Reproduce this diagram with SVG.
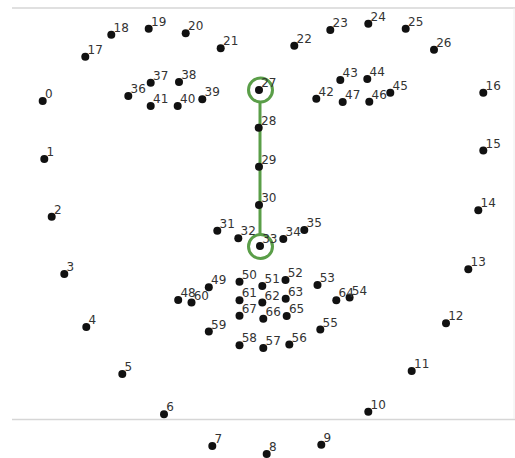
<svg xmlns="http://www.w3.org/2000/svg" width="515" height="458" viewBox="0 0 515 458">
<style>
.d{fill:#111}
.t{font-family:"DejaVu Sans",sans-serif;font-size:12px;fill:#333}
.rule{stroke:#d6d6d6;stroke-width:1.5;fill:none}
.g{stroke:#5a9e48;stroke-width:3;fill:none}
</style>
<rect width="515" height="458" fill="#fff"/>
<g id="frame">
<line class="rule" x1="12" y1="8" x2="515" y2="8"/>
<line class="rule" x1="12" y1="419.5" x2="515" y2="419.5"/>
<line x1="514" y1="8" x2="514" y2="419" stroke="#eee" stroke-width="1"/>
</g>
<g id="connectors">
<line class="g" x1="260" y1="102" x2="260" y2="234"/>
<circle class="g" cx="260.5" cy="90" r="12"/>
<circle class="g" cx="260.5" cy="246.5" r="12"/>
</g>
<g id="p0"><circle class="d" cx="42.7" cy="101" r="4"/><text class="t" x="45" y="98">0</text></g>
<g id="p1"><circle class="d" cx="44.3" cy="159" r="4"/><text class="t" x="46.5" y="156">1</text></g>
<g id="p2"><circle class="d" cx="51.7" cy="216.7" r="4"/><text class="t" x="54" y="213.7">2</text></g>
<g id="p3"><circle class="d" cx="64.3" cy="274" r="4"/><text class="t" x="66.5" y="271">3</text></g>
<g id="p4"><circle class="d" cx="86.3" cy="327" r="4"/><text class="t" x="88.5" y="324">4</text></g>
<g id="p5"><circle class="d" cx="122.3" cy="374" r="4"/><text class="t" x="124.5" y="371">5</text></g>
<g id="p6"><circle class="d" cx="164" cy="414.3" r="4"/><text class="t" x="166.2" y="411.3">6</text></g>
<g id="p7"><circle class="d" cx="212.3" cy="446" r="4"/><text class="t" x="214.5" y="443">7</text></g>
<g id="p8"><circle class="d" cx="266.7" cy="454" r="4"/><text class="t" x="269" y="451">8</text></g>
<g id="p9"><circle class="d" cx="321.3" cy="444.7" r="4"/><text class="t" x="323.5" y="441.7">9</text></g>
<g id="p10"><circle class="d" cx="368.3" cy="411.7" r="4"/><text class="t" x="370.5" y="408.7">10</text></g>
<g id="p11"><circle class="d" cx="411.7" cy="371" r="4"/><text class="t" x="414" y="368">11</text></g>
<g id="p12"><circle class="d" cx="446" cy="323.3" r="4"/><text class="t" x="448.2" y="320.3">12</text></g>
<g id="p13"><circle class="d" cx="468.3" cy="269.3" r="4"/><text class="t" x="470.5" y="266.3">13</text></g>
<g id="p14"><circle class="d" cx="478.3" cy="210.3" r="4"/><text class="t" x="480.5" y="207.3">14</text></g>
<g id="p15"><circle class="d" cx="483.3" cy="150.5" r="4"/><text class="t" x="485.5" y="147.5">15</text></g>
<g id="p16"><circle class="d" cx="483.3" cy="92.7" r="4"/><text class="t" x="485.5" y="89.7">16</text></g>
<g id="p17"><circle class="d" cx="85.3" cy="56.7" r="4"/><text class="t" x="87.5" y="53.7">17</text></g>
<g id="p18"><circle class="d" cx="111.3" cy="34.7" r="4"/><text class="t" x="113.5" y="31.7">18</text></g>
<g id="p19"><circle class="d" cx="148.7" cy="28.7" r="4"/><text class="t" x="151" y="25.7">19</text></g>
<g id="p20"><circle class="d" cx="185.7" cy="33.3" r="4"/><text class="t" x="188" y="30.3">20</text></g>
<g id="p21"><circle class="d" cx="220.7" cy="48.3" r="4"/><text class="t" x="223" y="45.3">21</text></g>
<g id="p22"><circle class="d" cx="294.3" cy="45.7" r="4"/><text class="t" x="296.5" y="42.7">22</text></g>
<g id="p23"><circle class="d" cx="330.3" cy="30" r="4"/><text class="t" x="332.5" y="27">23</text></g>
<g id="p24"><circle class="d" cx="368.3" cy="23.7" r="4"/><text class="t" x="370.5" y="20.7">24</text></g>
<g id="p25"><circle class="d" cx="405.7" cy="28.7" r="4"/><text class="t" x="408" y="25.7">25</text></g>
<g id="p26"><circle class="d" cx="434" cy="49.7" r="4"/><text class="t" x="436.2" y="46.7">26</text></g>
<g id="p27"><circle class="d" cx="259" cy="90" r="4"/><text class="t" x="261.2" y="87">27</text></g>
<g id="p28"><circle class="d" cx="258.7" cy="127.7" r="4"/><text class="t" x="261" y="124.7">28</text></g>
<g id="p29"><circle class="d" cx="259" cy="166.7" r="4"/><text class="t" x="261.2" y="163.7">29</text></g>
<g id="p30"><circle class="d" cx="259" cy="205" r="4"/><text class="t" x="261.2" y="202">30</text></g>
<g id="p31"><circle class="d" cx="217.3" cy="230.7" r="4"/><text class="t" x="219.5" y="227.7">31</text></g>
<g id="p32"><circle class="d" cx="238.3" cy="238.3" r="4"/><text class="t" x="240.5" y="235.3">32</text></g>
<g id="p33"><circle class="d" cx="260" cy="246" r="4"/><text class="t" x="262.2" y="243">33</text></g>
<g id="p34"><circle class="d" cx="283.3" cy="239" r="4"/><text class="t" x="285.5" y="236">34</text></g>
<g id="p35"><circle class="d" cx="304.3" cy="230" r="4"/><text class="t" x="306.5" y="227">35</text></g>
<g id="p36"><circle class="d" cx="128.3" cy="96" r="4"/><text class="t" x="130.5" y="93">36</text></g>
<g id="p37"><circle class="d" cx="150.7" cy="82.7" r="4"/><text class="t" x="153" y="79.7">37</text></g>
<g id="p38"><circle class="d" cx="179" cy="82" r="4"/><text class="t" x="181.2" y="79">38</text></g>
<g id="p39"><circle class="d" cx="202.3" cy="99.3" r="4"/><text class="t" x="204.5" y="96.3">39</text></g>
<g id="p40"><circle class="d" cx="177.7" cy="106" r="4"/><text class="t" x="180" y="103">40</text></g>
<g id="p41"><circle class="d" cx="150.7" cy="106" r="4"/><text class="t" x="153" y="103">41</text></g>
<g id="p42"><circle class="d" cx="316.3" cy="98.7" r="4"/><text class="t" x="318.5" y="95.7">42</text></g>
<g id="p43"><circle class="d" cx="340.3" cy="80" r="4"/><text class="t" x="342.5" y="77">43</text></g>
<g id="p44"><circle class="d" cx="367.3" cy="79" r="4"/><text class="t" x="369.5" y="76">44</text></g>
<g id="p45"><circle class="d" cx="390.3" cy="92.7" r="4"/><text class="t" x="392.5" y="89.7">45</text></g>
<g id="p46"><circle class="d" cx="369.3" cy="101.7" r="4"/><text class="t" x="371.5" y="98.7">46</text></g>
<g id="p47"><circle class="d" cx="342.7" cy="102" r="4"/><text class="t" x="345" y="99">47</text></g>
<g id="p48"><circle class="d" cx="178.2" cy="300" r="4"/><text class="t" x="180.4" y="297">48</text></g>
<g id="p49"><circle class="d" cx="208.8" cy="287.3" r="4"/><text class="t" x="211" y="284.3">49</text></g>
<g id="p50"><circle class="d" cx="239.5" cy="281.7" r="4"/><text class="t" x="241.7" y="278.7">50</text></g>
<g id="p51"><circle class="d" cx="262.3" cy="286" r="4"/><text class="t" x="264.5" y="283">51</text></g>
<g id="p52"><circle class="d" cx="285.5" cy="280" r="4"/><text class="t" x="287.7" y="277">52</text></g>
<g id="p53"><circle class="d" cx="317.5" cy="285" r="4"/><text class="t" x="319.7" y="282">53</text></g>
<g id="p54"><circle class="d" cx="349.6" cy="297.5" r="4"/><text class="t" x="351.8" y="294.5">54</text></g>
<g id="p55"><circle class="d" cx="320.3" cy="329.5" r="4"/><text class="t" x="322.5" y="326.5">55</text></g>
<g id="p56"><circle class="d" cx="289.3" cy="344.5" r="4"/><text class="t" x="291.5" y="341.5">56</text></g>
<g id="p57"><circle class="d" cx="263.3" cy="348" r="4"/><text class="t" x="265.5" y="345">57</text></g>
<g id="p58"><circle class="d" cx="239.5" cy="345.3" r="4"/><text class="t" x="241.7" y="342.3">58</text></g>
<g id="p59"><circle class="d" cx="208.8" cy="331.6" r="4"/><text class="t" x="211" y="328.6">59</text></g>
<g id="p60"><circle class="d" cx="191.5" cy="302.5" r="4"/><text class="t" x="193.7" y="299.5">60</text></g>
<g id="p61"><circle class="d" cx="239.5" cy="300.3" r="4"/><text class="t" x="241.7" y="297.3">61</text></g>
<g id="p62"><circle class="d" cx="262.3" cy="302.5" r="4"/><text class="t" x="264.5" y="299.5">62</text></g>
<g id="p63"><circle class="d" cx="285.7" cy="298.7" r="4"/><text class="t" x="287.9" y="295.7">63</text></g>
<g id="p64"><circle class="d" cx="336.3" cy="300.2" r="4"/><text class="t" x="338.5" y="297.2">64</text></g>
<g id="p65"><circle class="d" cx="286.7" cy="316" r="4"/><text class="t" x="288.9" y="313">65</text></g>
<g id="p66"><circle class="d" cx="263.3" cy="318.7" r="4"/><text class="t" x="265.5" y="315.7">66</text></g>
<g id="p67"><circle class="d" cx="239.5" cy="315.8" r="4"/><text class="t" x="241.7" y="312.8">67</text></g>
</svg>
